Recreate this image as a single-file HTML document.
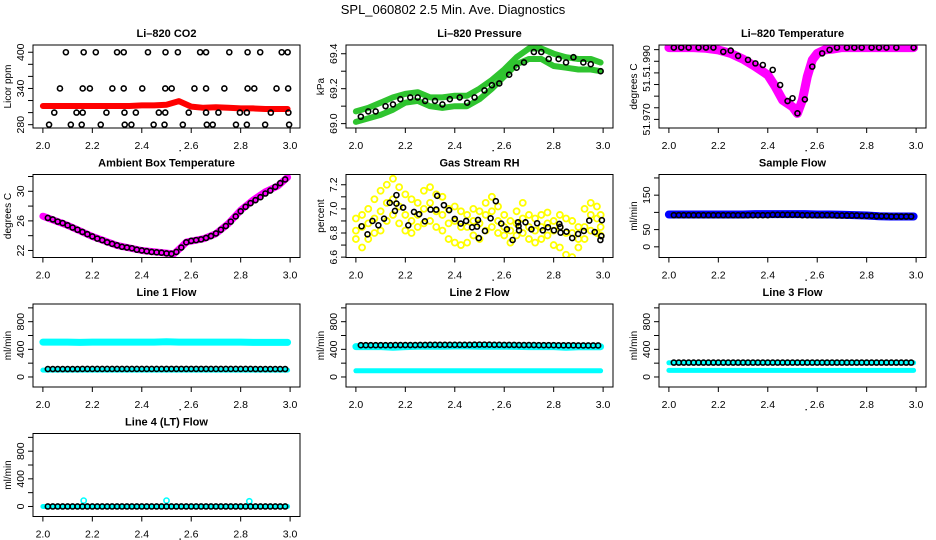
<!DOCTYPE html>
<html><head><meta charset="utf-8">
<style>
html,body{margin:0;padding:0;background:#fff;}
svg{display:block;font-family:"Liberation Sans",Arial,sans-serif;}
</style></head>
<body>
<svg id="chart" width="936" height="540" viewBox="0 0 936 540" xmlns="http://www.w3.org/2000/svg">
<rect width="936" height="540" fill="#fff"/>
<text x="453" y="14" font-size="13" text-anchor="middle">SPL_060802  2.5 Min. Ave. Diagnostics</text>
</svg>
<script>
// ---- shared time grids ----
const tBand = [2.0,2.05,2.1,2.15,2.2,2.25,2.3,2.35,2.4,2.45,2.5,2.55,2.6,2.65,2.7,2.75,2.8,2.85,2.9,2.95,2.99];
const tBlack = [2.02,2.04,2.06,2.08,2.10,2.12,2.14,2.16,2.18,2.20,2.22,2.24,2.26,2.28,2.30,2.32,2.34,2.36,2.38,2.40,2.42,2.44,2.46,2.48,2.50,2.52,2.54,2.56,2.58,2.60,2.62,2.64,2.66,2.68,2.70,2.72,2.74,2.76,2.78,2.80,2.82,2.84,2.86,2.88,2.90,2.92,2.94,2.96,2.98];
const tSparse = [2.02,2.05,2.08,2.12,2.15,2.18,2.22,2.25,2.28,2.32,2.35,2.38,2.42,2.45,2.48,2.52,2.55,2.58,2.62,2.65,2.68,2.72,2.75,2.78,2.82,2.85,2.88,2.92,2.95,2.99];
const xTicks = [2.0,2.2,2.4,2.6,2.8,3.0];
const xTickLabels = ['2.0','2.2','2.4','2.6','2.8','3.0'];

// ---- CO2 ----
const co2Red = [311,311,311,311,311,311,311,311,312,312,313,319,310,308,309,308,307,307,306,306,306];
const co2BlackX = [2.093,2.165,2.214,2.30,2.327,2.425,2.496,2.546,2.636,2.66,2.754,2.828,2.879,2.966,2.99,
 2.069,2.161,2.19,2.281,2.327,2.402,2.495,2.521,2.613,2.66,2.734,2.828,2.855,2.945,2.992,
 2.046,2.136,2.161,2.257,2.33,2.376,2.469,2.495,2.59,2.66,2.71,2.797,2.825,2.922,2.993,
 2.025,2.113,2.157,2.234,2.331,2.358,2.448,2.492,2.566,2.663,2.687,2.781,2.825,2.899,2.996];
const co2BlackY = [400,400,400,400,400,400,400,400,400,400,400,400,400,400,400,
 340,340,340,340,340,340,340,340,340,340,340,340,340,340,340,
 300,300,300,300,300,300,300,300,300,300,300,300,300,300,300,
 280,280,280,280,280,280,280,280,280,280,280,280,280,280,280];

// ---- Pressure ----
const presUpper = [69.07,69.09,69.12,69.15,69.17,69.18,69.15,69.15,69.16,69.16,69.20,69.25,69.31,69.38,69.43,69.43,69.40,69.38,69.37,69.37,69.35];
const presLower = [69.01,69.03,69.05,69.08,69.12,69.13,69.10,69.09,69.10,69.10,69.14,69.20,69.27,69.34,69.37,69.37,69.33,69.32,69.31,69.31,69.30];
const presBlack = [69.04,69.07,69.07,69.10,69.11,69.14,69.15,69.15,69.13,69.13,69.11,69.14,69.15,69.12,69.15,69.19,69.22,69.23,69.28,69.32,69.35,69.41,69.41,69.37,69.37,69.35,69.38,69.35,69.34,69.30];

// ---- Li-820 temperature ----
const tempX = [2.0,2.1,2.15,2.2,2.25,2.3,2.35,2.4,2.43,2.46,2.5,2.52,2.54,2.56,2.58,2.6,2.63,2.66,2.7,2.8,2.9,2.99];
const tempMag = [52.0009,52.0009,52.0006,51.9999,51.9984,51.9959,51.9927,51.9891,51.9841,51.9783,51.9754,51.9726,51.9783,51.9884,51.9956,51.9984,51.9999,52.0002,52.0009,52.0009,52.0009,52.0009];
const tempBlackX = [2.02,2.05,2.08,2.12,2.15,2.18,2.22,2.25,2.28,2.32,2.35,2.38,2.42,2.45,2.48,2.5,2.52,2.55,2.58,2.62,2.65,2.68,2.72,2.75,2.78,2.82,2.85,2.88,2.92,2.99];
const tempBlack = [52.0009,52.0009,52.0009,52.0009,52.0009,52.0009,51.9991,51.9996,51.9973,51.9956,51.9941,51.9934,51.9913,51.9848,51.9779,51.9791,51.9726,51.9786,51.9927,51.9984,51.9999,52.0009,52.0009,52.0009,52.0009,52.0009,52.0009,52.0009,52.0009,52.0009];

// ---- Ambient box temperature ----
const ambX = [2.0,2.1,2.2,2.3,2.4,2.5,2.53,2.56,2.58,2.65,2.7,2.75,2.8,2.85,2.9,2.95,2.99];
const ambMag = [26.63,25.40,23.90,22.68,22.0,21.64,21.55,22.45,23.13,23.59,24.27,25.63,27.44,28.80,29.93,30.71,31.89];
const ambBlack = [26.4,26.2,25.9,25.7,25.4,25.1,24.8,24.5,24.2,23.9,23.6,23.4,23.1,22.9,22.7,22.5,22.4,22.3,22.1,22.0,21.9,21.8,21.75,21.7,21.6,21.55,21.8,22.4,23.1,23.3,23.4,23.5,23.7,23.95,24.3,24.8,25.3,25.9,26.6,27.3,27.9,28.4,28.8,29.2,29.7,30.1,30.6,31.1,31.6];

// ---- Gas stream RH ----
const rhYx = [2.0,2.025,2.05,2.075,2.1,2.125,2.15,2.175,2.2,2.225,2.25,2.275,2.3,2.325,2.35,2.375,2.4,2.425,2.45,2.475,2.5,2.525,2.55,2.575,2.6,2.625,2.65,2.675,2.7,2.725,2.75,2.775,2.8,2.825,2.85,2.875,2.9,2.925,2.95,2.975,2.99];
const rhHi = [6.92,6.95,7.0,7.08,7.15,7.2,7.25,7.18,7.12,7.08,7.05,7.15,7.18,7.12,7.1,7.0,7.02,6.98,6.95,7.0,6.98,7.05,7.1,7.02,6.95,6.9,6.98,7.05,6.95,6.92,6.95,6.97,6.9,6.95,6.92,6.9,6.85,7.0,7.05,7.02,6.95];
const rhMid = [6.82,6.85,6.88,6.92,6.98,7.05,7.08,7.02,6.95,6.9,6.95,7.0,7.05,6.98,6.95,6.88,6.9,6.85,6.85,6.9,6.88,6.95,6.98,6.9,6.85,6.82,6.88,6.92,6.85,6.82,6.85,6.88,6.82,6.85,6.8,6.8,6.75,6.85,6.95,6.92,6.85];
const rhLo = [6.75,6.68,6.75,6.8,6.82,6.9,6.95,6.88,6.82,6.8,6.85,6.88,6.9,6.85,6.82,6.75,6.72,6.7,6.72,6.78,6.75,6.82,6.85,6.8,6.78,6.72,6.78,6.8,6.75,6.72,6.75,6.78,6.7,6.68,6.62,6.6,6.68,6.75,6.82,6.8,6.78];
const rhBlackX = [2.023,2.047,2.067,2.091,2.114,2.137,2.158,2.164,2.164,2.191,2.212,2.235,2.256,2.279,2.302,2.325,2.329,2.356,2.377,2.4,2.424,2.446,2.47,2.49,2.494,2.497,2.522,2.545,2.566,2.588,2.611,2.634,2.656,2.658,2.66,2.686,2.71,2.733,2.756,2.777,2.801,2.823,2.827,2.828,2.852,2.875,2.899,2.922,2.944,2.966,2.989,2.993,2.995];
const rhBlack = [6.856,6.789,6.9,6.864,6.919,7.05,6.983,7.114,7.044,7.011,6.864,6.975,6.956,6.897,6.994,6.994,7.108,7.031,6.989,6.917,6.878,6.9,6.847,6.853,6.908,6.758,6.817,6.922,7.064,6.878,6.831,6.742,6.889,6.858,6.822,6.889,6.831,6.881,6.822,6.847,6.822,6.875,6.85,6.803,6.811,6.758,6.792,6.817,6.903,6.808,6.742,6.775,6.906];

// ---- Sample flow ----
const sampleBlue = [94,94,94,94,94,94,94,95,95,95,95,95,94,94,93,92,91,89,88,88,88];
const sampleBlack = [92,92,92,92,92,92,92,92,92,92,92,92,92,92,92,92,92,92,92,92,93,93,93,93,93,93,92,92,92,92,92,92,92,91,91,91,91,91,90,90,90,89,89,89,88,88,88,88,88];

// ---- Line flows ----
const l1Upper = [505,505,505,500,505,505,505,505,505,505,510,505,505,505,505,505,505,500,500,500,500];
const l1Lower = [100,100,100,100,100,100,100,100,100,100,100,100,100,100,100,100,100,100,100,100,100];
const l1Black = [115,115,115,115,115,115,115,116,116,116,116,116,116,116,116,116,116,116,116,116,116,116,116,116,117,117,117,117,117,117,117,117,117,116,116,116,116,116,116,116,116,116,115,115,115,115,115,115,115];
const l2Upper = [440,440,440,430,440,445,445,445,448,448,445,445,445,442,440,440,440,430,438,438,438];
const l2Lower = [90,90,90,90,90,90,90,90,90,90,90,90,90,90,90,90,90,90,90,90,90];
const l2Black = [460,460,460,460,460,460,460,462,462,462,462,462,464,464,466,466,466,466,466,466,466,466,466,467,468,468,467,466,466,464,464,464,462,462,462,462,460,460,460,460,458,458,458,458,456,456,456,456,456];
const l3Upper = [205,205,205,205,205,205,205,205,205,205,205,205,205,205,205,205,205,205,205,205,205];
const l3Lower = [95,95,95,95,95,95,95,95,95,95,95,95,95,95,95,95,95,95,95,95,95];
const l3Black = [208,208,208,208,208,208,208,208,208,208,208,208,208,208,208,208,208,208,208,208,208,208,208,208,208,208,208,208,208,208,208,208,208,208,208,208,208,208,208,208,208,208,208,208,208,208,208,208,208];
const l4Cyan = [0,0,0,0,0,0,0,0,0,0,0,0,0,0,0,0,0,0,0,0,0];
const l4SpikeX = [2.165,2.5,2.835];
const l4Spike = [85,85,75];
const l4Black = [0,0,0,0,0,0,0,0,0,0,0,0,0,0,0,0,0,0,0,0,0,0,0,0,0,0,0,0,0,0,0,0,0,0,0,0,0,0,0,0,0,0,0,0,0,0,0,0,0];

const NS = 'http://www.w3.org/2000/svg';
const svg = document.getElementById('chart');
const COLS = [33,346,659], ROWS = [45,174.5,304,433.5], W = 267, H = 83;

const flowTicks = [0,200,400,600,800,1000];
const flowLabels = ['0','','400','','800',''];

const panels = [
 {key:'co2',c:0,r:0,title:'Li\u2013820 CO2',ylab:'Licor ppm',ymin:274.5,ymax:412,ticks:[280,300,320,340,360,380,400],labels:['280','','','340','','','400'],
  bands:[{x:tBand,y:co2Red,color:'#ff0000',w:6}],black:[{x:co2BlackX,y:co2BlackY}]},
 {key:'pressure',c:1,r:0,title:'Li\u2013820 Pressure',ylab:'kPa',ymin:68.975,ymax:69.45,ticks:[69.0,69.1,69.2,69.3,69.4],labels:['69.0','','69.2','','69.4'],
  bands:[{x:tBand,y:presUpper,color:'#2fc42f',w:6},{x:tBand,y:presLower,color:'#2fc42f',w:6}],black:[{x:tSparse,y:presBlack}]},
 {key:'li-temperature',c:2,r:0,title:'Li\u2013820 Temperature',ylab:'degrees C',ymin:51.9663,ymax:52.002,ticks:[51.970,51.975,51.980,51.985,51.990,51.995,52.000],labels:['51.970','','','51.','','51.990',''],
  bands:[{x:tempX,y:tempMag,color:'#ff00ff',w:9}],black:[{x:tempBlackX,y:tempBlack}]},
 {key:'ambient-temperature',c:0,r:1,title:'Ambient Box Temperature',ylab:'degrees C',ymin:21.05,ymax:32.27,ticks:[22,24,26,28,30,32],labels:['22','','26','','30',''],
  bands:[{x:ambX,y:ambMag,color:'#ff00ff',w:7}],black:[{x:tBlack,y:ambBlack}]},
 {key:'gas-rh',c:1,r:1,title:'Gas Stream RH',ylab:'percent',ymin:6.597,ymax:7.285,ticks:[6.6,6.7,6.8,6.9,7.0,7.1,7.2],labels:['6.6','','6.8','','7.0','','7.2'],
  bands:[],scatter:[{x:rhYx,y:rhHi},{x:rhYx,y:rhMid},{x:rhYx,y:rhLo}],scol:'#ffff00',black:[{x:rhBlackX,y:rhBlack}]},
 {key:'sample-flow',c:2,r:1,title:'Sample Flow',ylab:'ml/min',ymin:-31,ymax:210,ticks:[0,50,100,150,200],labels:['0','50','','150',''],
  bands:[{x:tBand,y:sampleBlue,color:'#0000ff',w:8}],black:[{x:tBlack,y:sampleBlack}]},
 {key:'line1-flow',c:0,r:2,title:'Line 1 Flow',ylab:'ml/min',ymin:-145,ymax:1056,ticks:flowTicks,labels:flowLabels,
  bands:[{x:tBand,y:l1Upper,color:'#00ffff',w:7},{x:tBand,y:l1Lower,color:'#00ffff',w:5}],black:[{x:tBlack,y:l1Black}]},
 {key:'line2-flow',c:1,r:2,title:'Line 2 Flow',ylab:'ml/min',ymin:-145,ymax:1056,ticks:flowTicks,labels:flowLabels,
  bands:[{x:tBand,y:l2Upper,color:'#00ffff',w:7},{x:tBand,y:l2Lower,color:'#00ffff',w:5}],black:[{x:tBlack,y:l2Black}]},
 {key:'line3-flow',c:2,r:2,title:'Line 3 Flow',ylab:'ml/min',ymin:-145,ymax:1056,ticks:flowTicks,labels:flowLabels,
  bands:[{x:tBand,y:l3Upper,color:'#00ffff',w:5},{x:tBand,y:l3Lower,color:'#00ffff',w:5}],black:[{x:tBlack,y:l3Black}]},
 {key:'line4-flow',c:0,r:3,title:'Line 4 (LT) Flow',ylab:'ml/min',ymin:-145,ymax:1056,ticks:flowTicks,labels:flowLabels,
  bands:[{x:tBand,y:l4Cyan,color:'#00ffff',w:5}],spikes:{x:l4SpikeX,y:l4Spike},black:[{x:tBlack,y:l4Black}]}
];

panels.forEach(p => {
  const L = COLS[p.c], T = ROWS[p.r];
  const sx = x => L + (x - 1.96) / 1.08 * W;
  const sy = v => T + (p.ymax - v) / (p.ymax - p.ymin) * H;
  const g = document.createElementNS(NS,'g');
  
  
  svg.appendChild(g);

  const cp = document.createElementNS(NS,'clipPath');
  cp.setAttribute('id','clip-'+p.key);
  const cr = document.createElementNS(NS,'rect');
  cr.setAttribute('x',L); cr.setAttribute('y',T); cr.setAttribute('width',W); cr.setAttribute('height',H);
  cp.appendChild(cr); g.appendChild(cp);
  const dg = document.createElementNS(NS,'g');
  dg.setAttribute('clip-path','url(#clip-'+p.key+')');
  
  
  g.appendChild(dg);

  p.bands.forEach((b,bi) => {
    const pl = document.createElementNS(NS,'polyline');
    
    
    pl.setAttribute('points', b.x.map((x,i)=>sx(x).toFixed(1)+','+sy(b.y[i]).toFixed(1)).join(' '));
    pl.setAttribute('fill','none'); pl.setAttribute('stroke',b.color);
    pl.setAttribute('stroke-width',b.w); pl.setAttribute('stroke-linejoin','round'); pl.setAttribute('stroke-linecap','round');
    dg.appendChild(pl);
  });
  if (p.scatter) p.scatter.forEach(s => {
    s.x.forEach((x,i) => {
      const c = document.createElementNS(NS,'circle');
      
      
      c.setAttribute('cx', sx(x)); c.setAttribute('cy', sy(s.y[i])); c.setAttribute('r', 3);
      c.setAttribute('fill','none'); c.setAttribute('stroke',p.scol); c.setAttribute('stroke-width',1.8);
      dg.appendChild(c);
    });
  });
  if (p.spikes) p.spikes.x.forEach((x,i) => {
    const c = document.createElementNS(NS,'circle');
    
    
    c.setAttribute('cx', sx(x)); c.setAttribute('cy', sy(p.spikes.y[i])); c.setAttribute('r', 2.6);
    c.setAttribute('fill','none'); c.setAttribute('stroke','#00ffff'); c.setAttribute('stroke-width',1.6);
    dg.appendChild(c);
  });
  p.black.forEach(s => {
    s.x.forEach((x,i) => {
      const c = document.createElementNS(NS,'circle');
      
      
      c.setAttribute('cx', sx(x)); c.setAttribute('cy', sy(s.y[i])); c.setAttribute('r', 2.5);
      c.setAttribute('fill','none'); c.setAttribute('stroke','#000'); c.setAttribute('stroke-width',1.6);
      dg.appendChild(c);
    });
  });

  const box = document.createElementNS(NS,'rect');
  
  
  box.setAttribute('x',L); box.setAttribute('y',T); box.setAttribute('width',W); box.setAttribute('height',H);
  box.setAttribute('fill','none'); box.setAttribute('stroke','#000'); box.setAttribute('stroke-width',1);
  g.appendChild(box);

  const xa = document.createElementNS(NS,'line');
  
  
  xa.setAttribute('x1',sx(2.0)); xa.setAttribute('x2',sx(3.0)); xa.setAttribute('y1',T+H); xa.setAttribute('y2',T+H);
  xa.setAttribute('stroke','#000');
  g.appendChild(xa);
  xTicks.forEach((t,i) => {
    const tk = document.createElementNS(NS,'line');
    
    
    tk.setAttribute('x1',sx(t)); tk.setAttribute('x2',sx(t)); tk.setAttribute('y1',T+H); tk.setAttribute('y2',T+H+5);
    tk.setAttribute('stroke','#000');
    g.appendChild(tk);
    const tl = document.createElementNS(NS,'text');
    
    
    tl.setAttribute('x',sx(t)); tl.setAttribute('y',T+H+21);
    tl.setAttribute('font-size','10.5'); tl.setAttribute('text-anchor','middle');
    tl.textContent = xTickLabels[i];
    g.appendChild(tl);
  });
  const ya = document.createElementNS(NS,'line');
  
  
  ya.setAttribute('x1',L); ya.setAttribute('x2',L);
  ya.setAttribute('y1',sy(p.ticks[0])); ya.setAttribute('y2',sy(p.ticks[p.ticks.length-1]));
  ya.setAttribute('stroke','#000');
  g.appendChild(ya);
  p.ticks.forEach((t,i) => {
    const y = sy(t);
    const tk = document.createElementNS(NS,'line');
    
    
    tk.setAttribute('x1',L-5); tk.setAttribute('x2',L); tk.setAttribute('y1',y); tk.setAttribute('y2',y);
    tk.setAttribute('stroke','#000');
    g.appendChild(tk);
    if (p.labels[i]) {
      const tl = document.createElementNS(NS,'text');
      
      
      tl.setAttribute('x',L-9); tl.setAttribute('y',y);
      tl.setAttribute('font-size','10.5'); tl.setAttribute('text-anchor','middle');
      tl.setAttribute('transform','rotate(-90 '+(L-9)+' '+y+')');
      tl.textContent = p.labels[i];
      g.appendChild(tl);
    }
  });
  const yl = document.createElementNS(NS,'text');
  
  
  const yx = L - 22, yy = T + H/2;
  yl.setAttribute('x',yx); yl.setAttribute('y',yy);
  yl.setAttribute('font-size','10'); yl.setAttribute('text-anchor','middle');
  yl.setAttribute('transform','rotate(-90 '+yx+' '+yy+')');
  yl.textContent = p.ylab;
  g.appendChild(yl);
  const ti = document.createElementNS(NS,'text');
  
  
  ti.setAttribute('x',L+W/2); ti.setAttribute('y',T-8);
  ti.setAttribute('font-size','11'); ti.setAttribute('font-weight','bold'); ti.setAttribute('text-anchor','middle');
  ti.textContent = p.title;
  g.appendChild(ti);
  const dot = document.createElementNS(NS,'rect');
  
  
  dot.setAttribute('x',L+W/2+13); dot.setAttribute('y',T+H+22); dot.setAttribute('width',1.3); dot.setAttribute('height',1.3);
  dot.setAttribute('fill','#000');
  g.appendChild(dot);
});
</script>
</body></html>
